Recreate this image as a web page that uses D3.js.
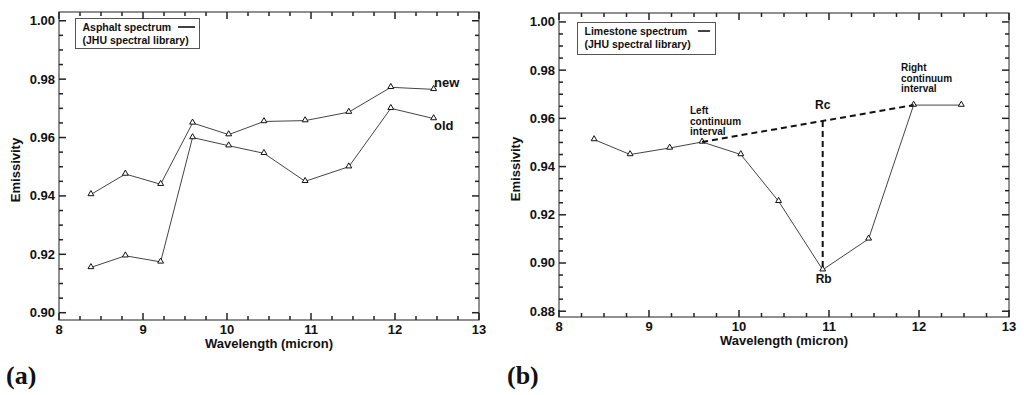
<!doctype html>
<html lang="en">
<head>
<meta charset="utf-8">
<title>Emissivity spectra</title>
<script src="https://cdn.jsdelivr.net/npm/d3@7"></script>
<style>
  body { margin: 0; background: #fff; }
  text { font-family: "Liberation Sans", Arial, sans-serif; fill: #111; }
  text.letter { font-family: "Liberation Serif", "Times New Roman", serif; }
</style>
</head>
<body>
<script>
// ---- data ----
var wavelengthA = [8.38, 8.79, 9.21, 9.59, 10.02, 10.44, 10.93, 11.45, 11.95, 12.46];
var asphaltNew  = [0.9405, 0.9475, 0.944, 0.965, 0.961, 0.9655, 0.9658, 0.9687, 0.9772, 0.9765];
var asphaltOld  = [0.9155, 0.9195, 0.9174, 0.960, 0.9572, 0.9546, 0.945, 0.950, 0.970, 0.9665];

var wavelengthB = [8.39, 8.79, 9.23, 9.59, 10.02, 10.44, 10.93, 11.44, 11.94, 12.47];
var limestone   = [0.9512, 0.945, 0.9477, 0.9502, 0.945, 0.9256, 0.8972, 0.910, 0.9655, 0.9655];

var xTicks = [8, 9, 10, 11, 12, 13];
var yTicksA = [0.90, 0.92, 0.94, 0.96, 0.98, 1.00];
var yTicksB = [0.88, 0.90, 0.92, 0.94, 0.96, 0.98, 1.00];

// continuum shoulders (indices into limestone) and band centre
var leftIdx = 3, rightIdx = 8, bandIdx = 6;

var svg = d3.select("body").append("svg")
    .attr("width", 1024)
    .attr("height", 395);

var frameColor = "#555";
var lineColor = "#444";
var tickLayer = [];   // tick segments, drawn last on top of everything

function drawPanel(p) {
    var g = svg.append("g");
    var x = d3.scaleLinear().domain([8, 13]).range([p.left, p.right]);
    var y = d3.scaleLinear().domain(p.yDomain).range([p.bottom, p.top]);

    // frame
    g.append("rect")
        .attr("x", p.left).attr("y", p.top)
        .attr("width", p.right - p.left).attr("height", p.bottom - p.top)
        .attr("fill", "none").attr("stroke", frameColor).attr("stroke-width", 1.3);

    // inward ticks on all four sides: major 7px, minor 4px
    var xAll = d3.range(32 + 1).map(i => 8 + i * 0.25).filter(v => v <= 13);
    var yAll = d3.range(30).map(i => 0.875 + i * 0.005)
        .filter(v => v >= p.yDomain[0] && v <= p.yDomain[1]);
    xAll.forEach(function (v) {
        var L = Math.abs(v - Math.round(v)) < 1e-6 ? 7 : 4, px = x(v);
        tickLayer.push([px, p.bottom, px, p.bottom - L]);
        tickLayer.push([px, p.top, px, p.top + L]);
    });
    yAll.forEach(function (v) {
        var L = Math.abs(v / 0.02 - Math.round(v / 0.02)) < 1e-6 ? 7 : 4, py = y(v);
        tickLayer.push([p.left, py, p.left + L, py]);
        tickLayer.push([p.right, py, p.right - L, py]);
    });

    // tick labels
    g.selectAll(".xl").data(xTicks).enter().append("text")
        .attr("x", d => x(d)).attr("y", p.bottom + 14)
        .attr("text-anchor", "middle")
        .attr("font-size", "13px").attr("font-weight", "bold")
        .text(d => d);
    g.selectAll(".yl").data(p.yTicks).enter().append("text")
        .attr("x", p.left - 4).attr("y", d => y(d) + 4.5)
        .attr("text-anchor", "end")
        .attr("font-size", "13px").attr("font-weight", "bold")
        .text(d => d.toFixed(2));

    // axis titles
    g.append("text")
        .attr("x", (p.left + p.right) / 2).attr("y", p.bottom + 28)
        .attr("text-anchor", "middle")
        .attr("font-size", "13px").attr("font-weight", "bold")
        .text("Wavelength (micron)");
    g.append("text")
        .attr("transform", "translate(" + (p.left - 39) + "," + ((p.top + p.bottom) / 2 + 4) + ") rotate(-90)")
        .attr("text-anchor", "middle")
        .attr("font-size", "13px").attr("font-weight", "bold")
        .text("Emissivity");

    // series
    var line = d3.line().x(d => x(d[0])).y(d => y(d[1]));
    var tri = d3.symbol().type(d3.symbolTriangle).size(15);
    p.series.forEach(function (vals) {
        var pts = p.xs.map((v, i) => [v, vals[i]]);
        g.append("path").attr("d", line(pts))
            .attr("fill", "none").attr("stroke", lineColor).attr("stroke-width", 1);
        g.selectAll(null).data(pts).enter().append("path")
            .attr("d", tri)
            .attr("transform", d => "translate(" + x(d[0]) + "," + (y(d[1]) - 0.5) + ")")
            .attr("fill", "#fff").attr("stroke", "#111").attr("stroke-width", 1);
    });

    // legend box
    var lg = p.legend;
    g.append("rect").attr("x", lg.x).attr("y", lg.y).attr("width", lg.w).attr("height", lg.h)
        .attr("fill", "#fff").attr("stroke", frameColor).attr("stroke-width", 1);
    g.append("text").attr("x", lg.x + 7).attr("y", lg.y + 12)
        .attr("font-size", "10.5px").attr("font-weight", "bold").text(lg.title);
    g.append("text").attr("x", lg.x + 7).attr("y", lg.y + 25)
        .attr("font-size", "10.5px").attr("font-weight", "bold").text("(JHU spectral library)");
    g.append("line").attr("x1", lg.lx1).attr("x2", lg.lx2).attr("y1", lg.y + 8.5).attr("y2", lg.y + 8.5)
        .attr("stroke", "#111").attr("stroke-width", 1.6);

    // panel letter
    g.append("text").attr("class", "letter").attr("x", p.letterX).attr("y", 384)
        .attr("font-size", "26px").attr("font-weight", "bold")
        .text(p.letter);

    return { g: g, x: x, y: y };
}

// ---- panel (a) ----
var a = drawPanel({
    left: 59, right: 479, top: 12, bottom: 320,
    yDomain: [0.8975, 1.003], yTicks: yTicksA,
    xs: wavelengthA, series: [asphaltNew, asphaltOld],
    legend: { x: 75.5, y: 18.5, w: 124, h: 30, title: "Asphalt spectrum", lx1: 178, lx2: 195 },
    letter: "(a)", letterX: 6
});
a.g.append("text").attr("x", 434).attr("y", 87)
    .attr("font-size", "13px").attr("font-weight", "bold").text("new");
a.g.append("text").attr("x", 434).attr("y", 130)
    .attr("font-size", "13px").attr("font-weight", "bold").text("old");

// ---- panel (b) ----
var b = drawPanel({
    left: 559, right: 1009, top: 13, bottom: 317,
    yDomain: [0.8776, 1.0037], yTicks: yTicksB,
    xs: wavelengthB, series: [limestone],
    legend: { x: 577.5, y: 22.5, w: 138, h: 32, title: "Limestone spectrum", lx1: 698, lx2: 710 },
    letter: "(b)", letterX: 507
});

// continuum line and band depth
var x0 = wavelengthB[leftIdx], y0 = limestone[leftIdx];
var x1 = wavelengthB[rightIdx], y1 = limestone[rightIdx];
var xc = wavelengthB[bandIdx];
var rc = y0 + (xc - x0) / (x1 - x0) * (y1 - y0);
b.g.append("line")
    .attr("x1", b.x(x0)).attr("y1", b.y(y0)).attr("x2", b.x(x1)).attr("y2", b.y(y1))
    .attr("stroke", "#111").attr("stroke-width", 2).attr("stroke-dasharray", "6,4");
b.g.append("line")
    .attr("x1", b.x(xc)).attr("y1", b.y(rc)).attr("x2", b.x(xc)).attr("y2", b.y(limestone[bandIdx]))
    .attr("stroke", "#111").attr("stroke-width", 2).attr("stroke-dasharray", "6,4");

b.g.append("text").attr("x", b.x(xc)).attr("y", b.y(rc) - 12)
    .attr("text-anchor", "middle").attr("font-size", "12px").attr("font-weight", "bold").text("Rc");
b.g.append("text").attr("x", b.x(xc) + 1).attr("y", b.y(limestone[bandIdx]) + 13)
    .attr("text-anchor", "middle").attr("font-size", "12px").attr("font-weight", "bold").text("Rb");

function note(lines, px, py) {
    lines.forEach(function (s, i) {
        b.g.append("text").attr("x", px).attr("y", py + i * 10.5)
            .attr("font-size", "10px").attr("font-weight", "bold").attr("fill", "#222").text(s);
    });
}
note(["Left", "continuum", "interval"], 690, 114);
note(["Right", "continuum", "interval"], 901, 71);

// frame ticks, on top of everything
svg.append("g")
    .selectAll("line")
    .data(tickLayer)
    .enter().append("line")
    .attr("x1", d => d[0]).attr("y1", d => d[1])
    .attr("x2", d => d[2]).attr("y2", d => d[3])
    .style("stroke", "#222")
    .style("stroke-width", "1.5px");
</script>
</body>
</html>
